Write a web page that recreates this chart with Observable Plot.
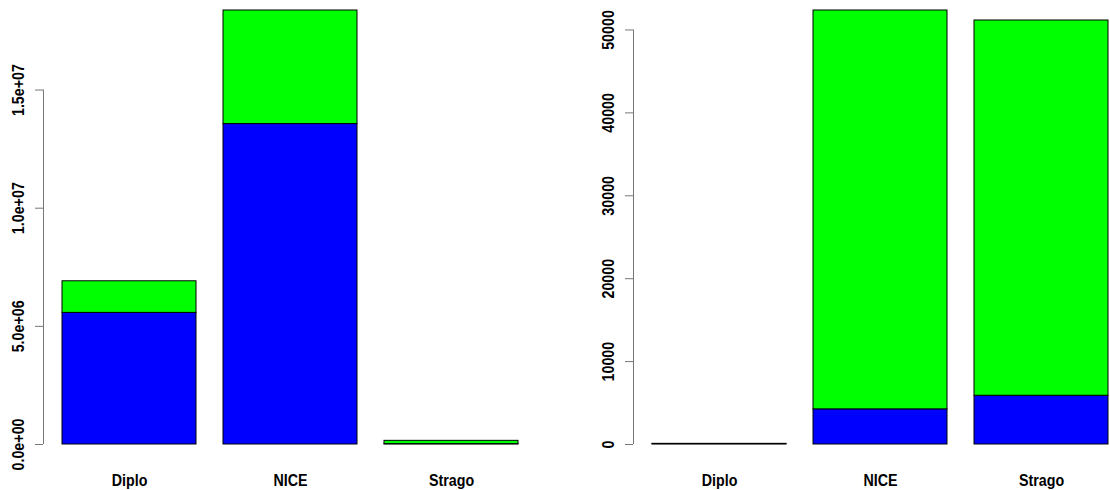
<!DOCTYPE html>
<html>
<head>
<meta charset="utf-8">
<script src="https://cdn.jsdelivr.net/npm/d3@7"></script>
<script src="https://cdn.jsdelivr.net/npm/@observablehq/plot@0.6"></script>
<style>
  html, body { margin: 0; padding: 0; background: white; }
  #wrap { position: relative; width: 1110px; height: 490px; overflow: hidden; }
  #left, #right { position: absolute; top: 0; }
  #left { left: 0; }
  #right { left: 555px; }
</style>
</head>
<body>
<div id="wrap"><div id="left"></div><div id="right"></div></div>
<script>
// ---- data ----
const categories = ["Diplo", "NICE", "Strago"];
const seriesNames = ["lower", "upper"];
const seriesColors = ["#0000FF", "#00FF00"];

// left panel
const leftLower = [5570000, 13560000, 15000];
const leftUpper = [1337000, 4806000, 140000];
const leftTickValues = [0, 5e6, 1e7, 1.5e7];
const leftTickLabels = ["0.0e+00", "5.0e+06", "1.0e+07", "1.5e+07"];

// right panel
const rightLower = [50, 4240, 5880];
const rightUpper = [30, 48110, 45265];
const rightTickValues = [0, 10000, 20000, 30000, 40000, 50000];
const rightTickLabels = ["0", "10000", "20000", "30000", "40000", "50000"];

const FONT = '"Liberation Sans", Arial, sans-serif';

function rows(lower, upper) {
  const out = [];
  categories.forEach((c, i) => {
    out.push({cat: c, series: seriesNames[0], value: lower[i]});
    out.push({cat: c, series: seriesNames[1], value: upper[i]});
  });
  return out;
}

function panel(lower, upper, tickValues, tickLabels, marginLeft, xRange) {
  const data = rows(lower, upper);
  const maxTotal = d3.max(categories.map((c, i) => lower[i] + upper[i]));
  const plot = Plot.plot({
    width: 555,
    height: 490,
    marginTop: 10,
    marginBottom: 46,
    marginLeft: marginLeft,
    marginRight: 0,
    style: {fontFamily: FONT, fontSize: "17px", fontWeight: "bold", color: "black", background: "white"},
    x: {domain: categories, range: xRange, paddingInner: 1/6, paddingOuter: 1/12, tickSize: 0, tickPadding: 29, label: null},
    y: {domain: [0, maxTotal], ticks: tickValues, tickFormat: () => "", tickSize: 8, label: null},
    color: {domain: seriesNames, range: seriesColors},
    marks: [
      Plot.barY(data, {x: "cat", y: "value", fill: "series", stroke: "black", strokeWidth: 1}),
      Plot.text(tickValues, {y: d => d, text: (d, i) => tickLabels[i], frameAnchor: "left", textAnchor: "middle", lineAnchor: "middle", dx: -25, rotate: -90, fill: "black"})
    ]
  });
  const y = plot.scale("y");
  const svg = d3.select(plot.tagName === "svg" ? plot : plot.querySelector("svg"));
  svg.selectAll('[aria-label^="y-axis"] line, [aria-label^="y-axis"] path').attr("stroke", "#777");
  svg.append("line")
    .attr("x1", marginLeft + 0.5).attr("x2", marginLeft + 0.5)
    .attr("y1", y.apply(tickValues[0])).attr("y2", y.apply(tickValues[tickValues.length - 1]))
    .attr("stroke", "#777").attr("stroke-width", 1);
  return plot;
}

const pl = panel(leftLower, leftUpper, leftTickValues, leftTickLabels, 43, [48, 532]);
const pr = panel(rightLower, rightUpper, rightTickValues, rightTickLabels, 78, [83.6, 567.4]);
document.getElementById("left").appendChild(pl);
document.getElementById("right").appendChild(pr);

// condense the text like R's narrow bitmap Helvetica
d3.selectAll("#wrap text").each(function () {
  const t = this;
  if (!t.textContent) return;
  const len = t.getComputedTextLength();
  if (len > 0) {
    t.setAttribute("textLength", (len * 0.84).toFixed(2));
    t.setAttribute("lengthAdjust", "spacingAndGlyphs");
  }
});
</script>
</body>
</html>
